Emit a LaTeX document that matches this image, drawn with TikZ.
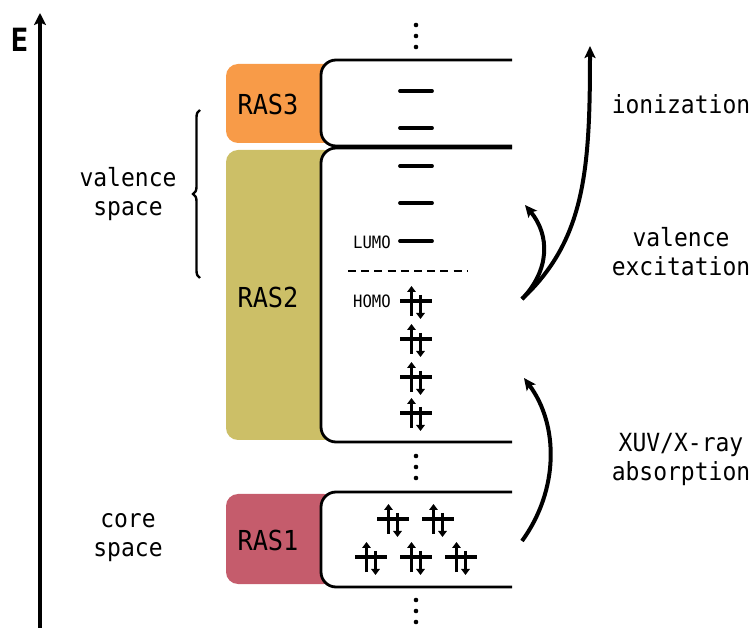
\documentclass[tikz,border=0pt]{standalone}
\usepackage{fontspec}
\setmonofont[FakeStretch=0.92]{DejaVu Sans Mono}
\usetikzlibrary{arrows.meta,decorations.pathreplacing}
\definecolor{rasorange}{RGB}{248,155,72}
\definecolor{rasolive}{RGB}{204,191,103}
\definecolor{rasred}{RGB}{197,92,108}
\tikzset{
  lbl/.style={font=\ttfamily\fontsize{25}{29}\selectfont, align=center, inner sep=0},
  raslbl/.style={font=\ttfamily\fontsize{27.5}{30}\selectfont, inner sep=0},
  small/.style={font=\ttfamily\fontsize{17}{20}\selectfont, inner sep=0},
  rasbox/.style={rounded corners=12, draw=none},
  shell/.style={line width=2.8, rounded corners=15},
  level/.style={line width=3.8, line cap=round},
  arr/.style={line width=4, -{Stealth[length=12, width=11, inset=2.5]}},
  pair/.pic={
    \draw[line width=3.6] (-16,0) -- (16,0);
    \draw[line width=3.2, -{Triangle[length=6, width=8.5]}] (-4.5,15) -- (-4.5,-15);
    \draw[line width=3.2, -{Triangle[length=6, width=8.5]}] (4.5,-6) -- (4.5,18);
  },
  vdots/.pic={
    \fill (0,0) circle (2.3);
    \fill (0,11) circle (2.3);
    \fill (0,22) circle (2.3);
  }
}
\begin{document}
\begin{tikzpicture}[x=1pt, y=-1pt]
\useasboundingbox (0,0) rectangle (756,628);

% energy axis
\coordinate (ebot) at (40,628);
\coordinate (etop) at (40,13);
\draw[line width=3.8, -{Stealth[length=12, width=12, inset=2.5]}] (ebot) -- (etop);
\node[font=\ttfamily\bfseries\fontsize{32}{34}\selectfont, inner sep=0] (elabel) at (19.5,40) {E};

% coloured RAS boxes
\fill[rasorange, rasbox] (226,64) rectangle (336,143);
\fill[rasolive, rasbox] (226,150) rectangle (336,440);
\fill[rasred, rasbox] (226,494) rectangle (336,584);

% white shells
\fill[white, rounded corners=15] (512,60) -- (321,60) -- (321,146) -- (512,146) -- cycle;
\draw[shell] (512,60) -- (321,60) -- (321,146) -- (512,146);
\fill[white, rounded corners=15] (512,148) -- (321,148) -- (321,442) -- (512,442) -- cycle;
\draw[shell] (512,148) -- (321,148) -- (321,442) -- (512,442);
\fill[white, rounded corners=15] (512,492) -- (321,492) -- (321,587) -- (512,587) -- cycle;
\draw[shell] (512,492) -- (321,492) -- (321,587) -- (512,587);

% RAS labels
\node[raslbl] (ras3) at (268,104) {RAS3};
\node[raslbl] (ras2) at (268,297) {RAS2};
\node[raslbl] (ras1) at (268,540) {RAS1};

% dots
\pic at (416,25) {vdots};
\pic at (416,456) {vdots};
\pic at (416,600) {vdots};

% RAS3 levels
\draw[level] (400,91) -- (432,91);
\draw[level] (400,128) -- (432,128);
% RAS2 virtual levels
\draw[level] (400,166) -- (432,166);
\draw[level] (400,203) -- (432,203);
\draw[level] (400,241) -- (432,241);
\node[small, anchor=east] (lumo) at (391,242) {LUMO};
\draw[line width=2.2, dash pattern=on 8 off 5.2] (348,271) -- (468,271);
\node[small, anchor=east] (homo) at (391,301) {HOMO};
\pic at (416,301) {pair};
\pic at (416,339) {pair};
\pic at (416,377) {pair};
\pic at (416,413) {pair};
% RAS1 core levels
\pic at (393,519) {pair};
\pic at (438,519) {pair};
\pic at (371,557) {pair};
\pic at (416,557) {pair};
\pic at (461,557) {pair};

% brace and space labels
\draw[line width=2.4, decorate, decoration={brace, amplitude=7}] (200,278) -- (200,110);
\node[lbl] (valsp) at (128,194) {valence\\space};
\node[lbl] (coresp) at (128,538) {core\\space};

% transition arrows
\coordinate (xs) at (522,541);
\coordinate (xe) at (524,378);
\coordinate (vs) at (522,299);
\coordinate (ve) at (525,205);
\coordinate (ie) at (590,46);
\draw[arr] (xs) .. controls (559,490) and (559,425) .. (xe);
\draw[arr] (vs) .. controls (550,270) and (550,235) .. (ve);
\draw[arr] (vs) .. controls (585,240) and (590,170) .. (ie);

\node[lbl] (ion) at (681,104) {ionization};
\node[lbl] (valex) at (681,252) {valence\\excitation};
\node[lbl] (xuv) at (681,459) {XUV/X-ray\\absorption};
\end{tikzpicture}
\end{document}
